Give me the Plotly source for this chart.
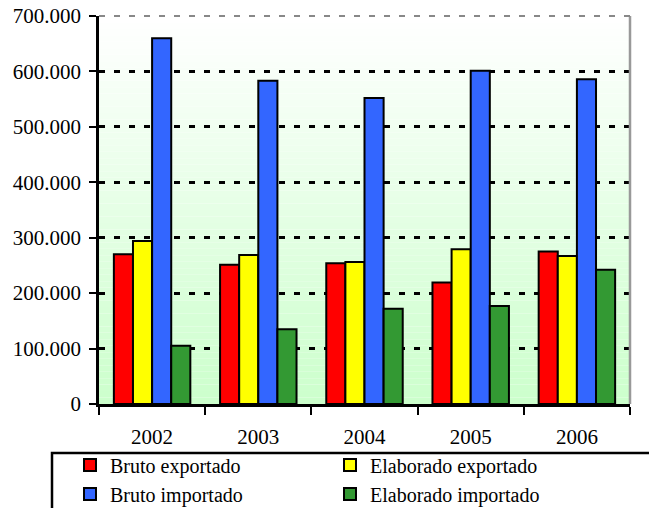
import plotly.graph_objects as go

years = ["2002", "2003", "2004", "2005", "2006"]
bruto_exportado = [270000, 251000, 254000, 219000, 275000]
elaborado_exportado = [294000, 269000, 256000, 279000, 267000]
bruto_importado = [660000, 583000, 552000, 601000, 586000]
elaborado_importado = [105000, 135000, 172000, 177000, 242000]
y_ticks = [0, 100000, 200000, 300000, 400000, 500000, 600000, 700000]

series = [
    ("Bruto exportado", bruto_exportado, "#FF0000"),
    ("Elaborado exportado", elaborado_exportado, "#FFFF00"),
    ("Bruto importado", bruto_importado, "#3366FF"),
    ("Elaborado importado", elaborado_importado, "#339933"),
]

FONT = "Liberation Serif, Palatino Linotype, serif"

fig = go.Figure()
for name, vals, col in series:
    fig.add_trace(go.Bar(
        x=years, y=vals, name=name,
        marker=dict(color=col, line=dict(color="black", width=2)),
    ))

# gradient background (white at top -> light green at bottom)
shapes = []
n = 60
for i in range(n):
    t = i / (n - 1)
    g = (1 - t)
    r = int(round(255 - 51 * g))
    b = int(round(255 - 51 * g))
    shapes.append(dict(type="rect", xref="x domain", yref="y domain",
                       x0=0, x1=1, y0=i / n, y1=(i + 1) / n,
                       fillcolor=f"rgb({r},255,{b})", line=dict(width=0),
                       layer="below"))
# right border grey, top border grey dashed
shapes.append(dict(type="line", xref="x domain", yref="y domain", x0=1, x1=1, y0=0, y1=1,
                   line=dict(color="#999999", width=2.5), layer="above"))
shapes.append(dict(type="line", xref="x domain", yref="y domain", x0=0, x1=1, y0=1, y1=1,
                   line=dict(color="#888888", width=2, dash="6px,9px"), layer="above"))
# legend box
shapes.append(dict(type="rect", xref="paper", yref="paper",
                   x0=-0.0885, x1=1.2, y0=-0.5, y1=-0.1263,
                   line=dict(color="black", width=2.5), fillcolor="rgba(0,0,0,0)"))

fig.update_layout(
    width=649, height=508,
    margin=dict(l=99, r=19, t=16, b=104, autoexpand=False),
    paper_bgcolor="white",
    plot_bgcolor="rgba(0,0,0,0)",
    separators=",.",
    barmode="group",
    bargap=0.28,
    bargroupgap=0,
    font=dict(family=FONT, size=21, color="black"),
    showlegend=True,
    legend=dict(
        orientation="h",
        x=-0.0546, xanchor="left",
        y=-0.107, yanchor="top",
        entrywidth=215, entrywidthmode="pixels",
        font=dict(family=FONT, size=20, color="black"),
        itemwidth=30,
        tracegroupgap=0,
        bgcolor="rgba(0,0,0,0)",
    ),
    shapes=shapes,
)
fig.update_xaxes(
    type="category",
    automargin=False,
    showline=True, linecolor="black", linewidth=2.5,
    ticks="outside", tickson="boundaries", ticklen=8, tickwidth=2, tickcolor="black",
    ticklabelstandoff=12,
    ticklabeloverflow="allow",
    showgrid=False,
    tickfont=dict(family=FONT, size=21),
)
fig.update_yaxes(
    range=[0, 700000],
    automargin=False,
    tickvals=y_ticks,
    tickformat=",d",
    showline=True, linecolor="black", linewidth=2.5,
    ticks="outside", ticklen=7, tickwidth=2, tickcolor="black",
    ticklabelstandoff=4,
    ticklabeloverflow="allow",
    showgrid=True, gridcolor="black", gridwidth=2.5, griddash="6px,9px",
    zeroline=False,
    tickfont=dict(family=FONT, size=21),
)

# remove the browser's default 8px body margin so the figure fills the window
fig.write_html("out.html", config={"displayModeBar": False},
               post_script="document.body.style.margin='0px';")
